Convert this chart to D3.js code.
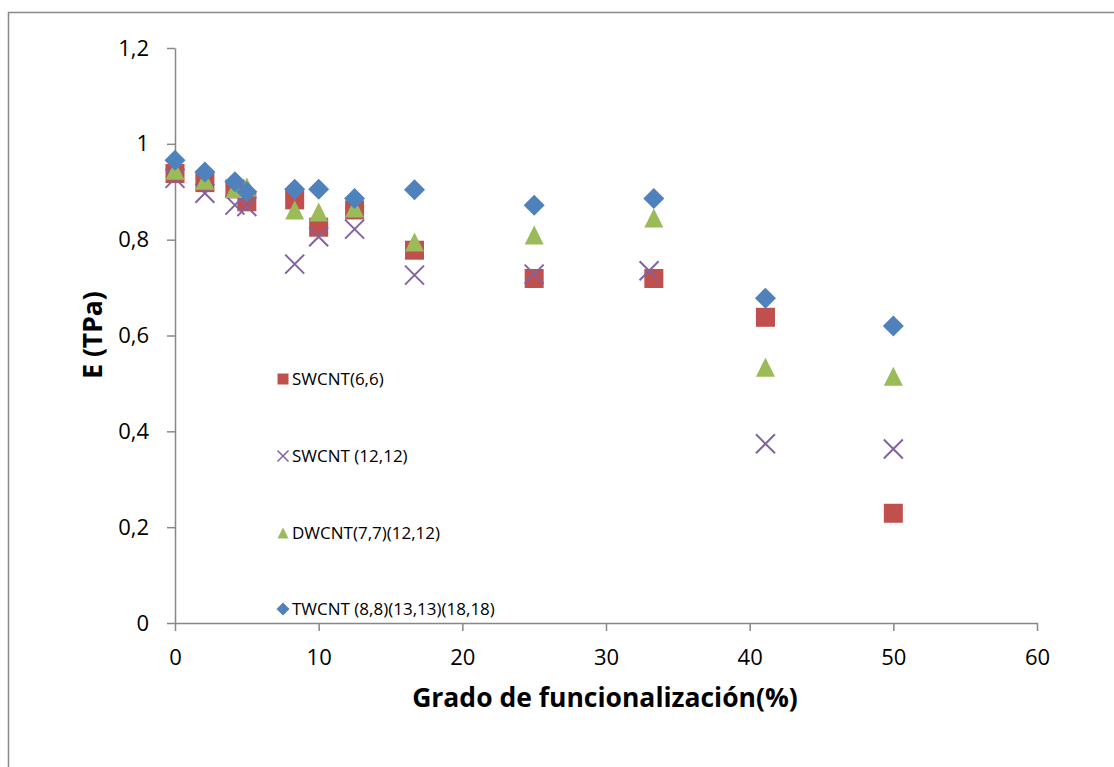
<!DOCTYPE html>
<html>
<head>
<meta charset="utf-8">
<script src="https://cdn.jsdelivr.net/npm/d3@7"></script>
<style>
  body { margin: 0; background: #fff; }
  svg { font-family: "Open Sans", "Noto Sans", sans-serif; }
</style>
</head>
<body>
<div id="chart"></div>
<script>
// Degree of functionalization (%) for each series
const xSW66 = [0, 2.08, 4.17, 5, 8.33, 10, 12.5, 16.67, 25, 33.33, 41.1, 50];
const ySW66 = [0.938, 0.919, 0.906, 0.879, 0.883, 0.826, 0.862, 0.778, 0.719, 0.719, 0.638, 0.229];

const xSW1212 = [0, 2.08, 4.17, 5, 8.33, 10, 12.5, 16.67, 25, 33.0, 41.1, 50];
const ySW1212 = [0.928, 0.897, 0.872, 0.869, 0.749, 0.806, 0.822, 0.726, 0.728, 0.735, 0.374, 0.363];

const xDW = [0, 2.08, 4.17, 5, 8.33, 10, 12.5, 16.67, 25, 33.33, 41.1, 50];
const yDW = [0.945, 0.924, 0.907, 0.910, 0.862, 0.858, 0.866, 0.795, 0.810, 0.845, 0.534, 0.515];

const xTW = [0, 2.08, 4.17, 5, 8.33, 10, 12.5, 16.67, 25, 33.33, 41.1, 50];
const yTW = [0.966, 0.941, 0.921, 0.900, 0.905, 0.905, 0.886, 0.904, 0.872, 0.886, 0.678, 0.620];

const seriesNames = ["SWCNT(6,6)", "SWCNT (12,12)", "DWCNT(7,7)(12,12)", "TWCNT (8,8)(13,13)(18,18)"];
const xTicks = [0, 10, 20, 30, 40, 50, 60];
const yTicks = [0, 0.2, 0.4, 0.6, 0.8, 1, 1.2];

const W = 1114, H = 767;
const margin = { top: 48, right: 77, bottom: 144, left: 175 };
const width = W - margin.left - margin.right;
const height = H - margin.top - margin.bottom;

const svg = d3.select("#chart").append("svg")
    .attr("width", W)
    .attr("height", H);

// outer chart border (only top/left visible)
svg.append("rect")
    .attr("x", 8.5).attr("y", 12.5)
    .attr("width", W + 20).attr("height", H + 20)
    .attr("fill", "none")
    .attr("stroke", "#888")
    .attr("stroke-width", 1.5);

const x = d3.scaleLinear().domain([0, 60]).range([0, width]);
const y = d3.scaleLinear().domain([0, 1.2]).range([height, 0]);

const g = svg.append("g")
    .attr("transform", `translate(${margin.left},${margin.top})`);

const fmt = d => d3.format("~g")(d).replace(".", ",");

const xAxis = g.append("g")
    .attr("transform", `translate(0,${height})`)
    .call(d3.axisBottom(x).tickValues(xTicks).tickSize(8).tickSizeOuter(0).tickPadding(18).tickFormat(fmt));

const yAxis = g.append("g")
    .call(d3.axisLeft(y).tickValues(yTicks).tickSize(8).tickSizeOuter(0).tickPadding(18).tickFormat(fmt));

[xAxis, yAxis].forEach(a => {
    a.select(".domain").attr("stroke", "#888").attr("stroke-width", 1.5);
    a.selectAll(".tick line").attr("stroke", "#888").attr("stroke-width", 1.5);
    a.selectAll(".tick text")
        .attr("fill", "#000")
        .style("font-size", "22px")
        .style("font-family", "'Open Sans', sans-serif");
});

// axis titles
svg.append("text")
    .attr("x", 605).attr("y", 707)
    .attr("text-anchor", "middle")
    .style("font-size", "26.5px")
    .style("font-weight", "bold")
    .text("Grado de funcionalización(%)");

svg.append("text")
    .attr("transform", "translate(102,335) rotate(-90)")
    .attr("text-anchor", "middle")
    .style("font-size", "26.5px")
    .style("font-weight", "bold")
    .text("E (TPa)");

const colors = ["#C0504D", "#8064A2", "#9BBB59", "#4F81BD"];

function drawMarker(sel, type, size, color) {
    if (type === "cross") {
        const h = size / 2;
        sel.append("path")
            .attr("d", `M${-h},${-h}L${h},${h}M${-h},${h}L${h},${-h}`)
            .attr("stroke", color)
            .attr("stroke-width", size > 12 ? 2 : 1.5)
            .attr("fill", "none");
    } else if (type === "square") {
        sel.append("rect")
            .attr("x", -size / 2).attr("y", -size / 2)
            .attr("width", size).attr("height", size)
            .attr("fill", color);
    } else if (type === "triangle") {
        const h = size / 2;
        sel.append("path")
            .attr("d", `M0,${-h}L${h},${h}L${-h},${h}Z`)
            .attr("fill", color);
    } else if (type === "diamond") {
        const h = size / 2 + 1;
        sel.append("path")
            .attr("d", `M0,${-h}L${h},0L0,${h}L${-h},0Z`)
            .attr("fill", color);
    }
}

const series = [
    { xs: xSW66, ys: ySW66, type: "square" },
    { xs: xSW1212, ys: ySW1212, type: "cross" },
    { xs: xDW, ys: yDW, type: "triangle" },
    { xs: xTW, ys: yTW, type: "diamond" }
];

series.forEach((s, i) => {
    s.xs.forEach((xv, j) => {
        const m = g.append("g")
            .attr("transform", `translate(${x(xv)},${y(s.ys[j])})`);
        drawMarker(m, s.type, 19, colors[i]);
    });
});

// legend inside plot area
const legendY = [379, 456, 533, 609];
seriesNames.forEach((name, i) => {
    const lg = svg.append("g").attr("transform", `translate(283,${legendY[i]})`);
    drawMarker(lg, series[i].type, 11, colors[i]);
    lg.append("text")
        .attr("x", 9)
        .attr("dy", "0.35em")
        .style("font-size", "17px")
        .text(name);
});
</script>
</body>
</html>
